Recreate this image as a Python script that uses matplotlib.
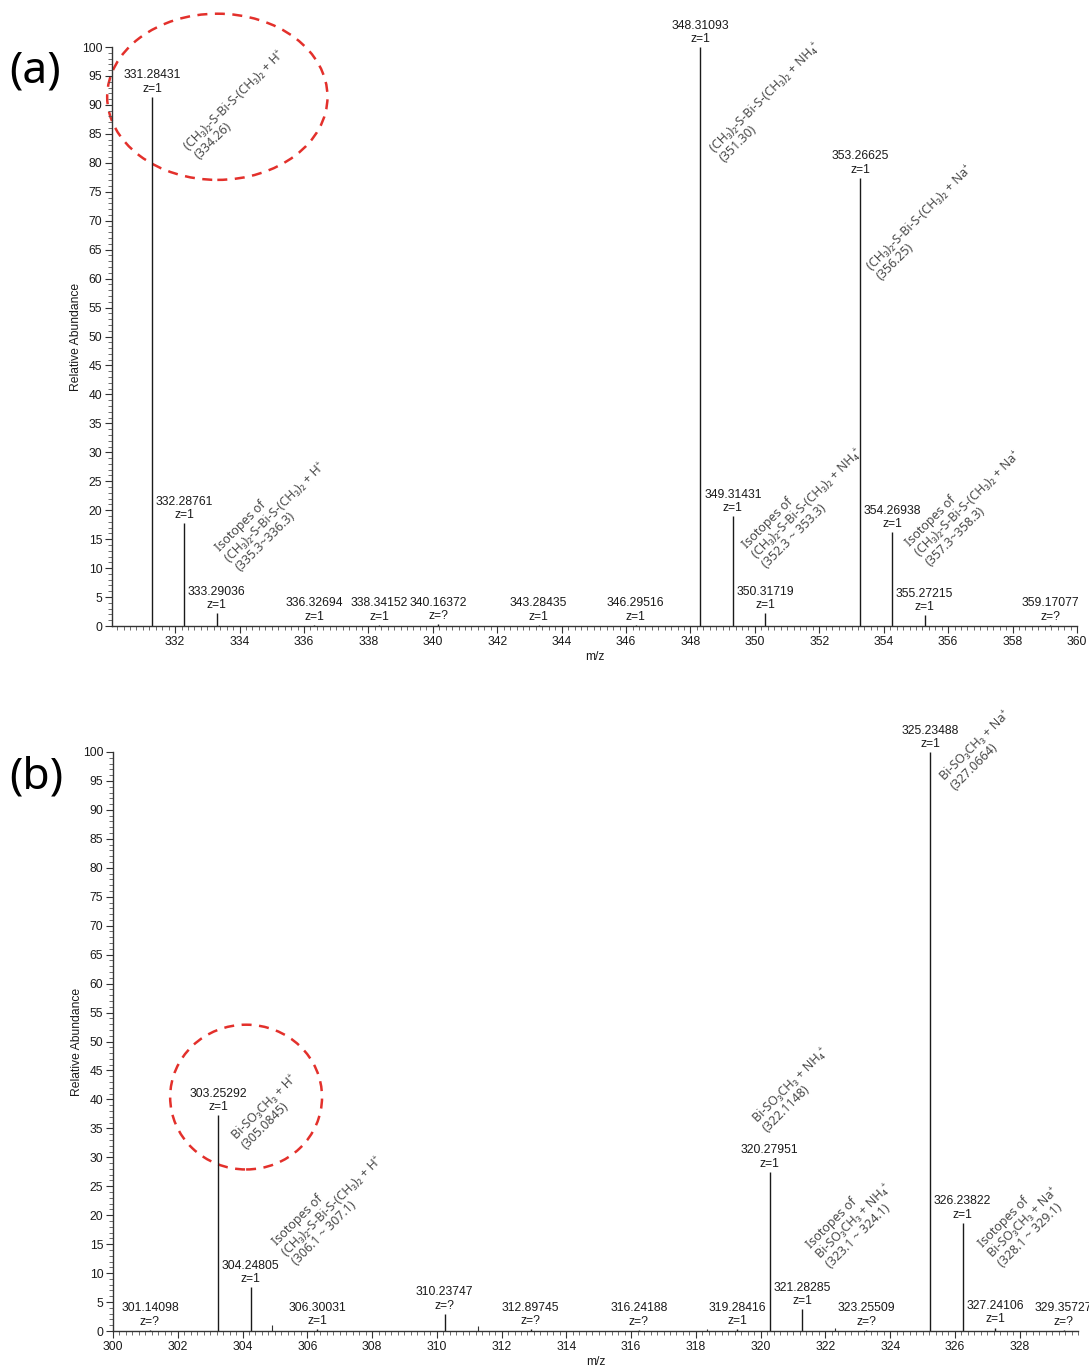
import matplotlib.pyplot as plt
from matplotlib.patches import Ellipse
from matplotlib.ticker import MultipleLocator

# (a) peaks: m/z, relative abundance, charge
mz_a = [331.28431, 332.28761, 333.29036, 336.32694, 338.34152, 340.16372,
        343.28435, 346.29516, 348.31093, 349.31431, 350.31719, 353.26625,
        354.26938, 355.27215, 359.17077]
int_a = [91.4, 17.8, 2.2, 0.2, 0.2, 0.3, 0.2, 0.2, 100.0, 19.0, 2.2, 77.4,
         16.2, 1.9, 0.2]
z_a = ['1', '1', '1', '1', '1', '?', '1', '1', '1', '1', '1', '1', '1', '1', '?']

# (b) peaks
mz_b = [301.14098, 303.25292, 304.24805, 306.30031, 310.23747, 312.89745,
        316.24188, 319.28416, 320.27951, 321.28285, 323.25509, 325.23488,
        326.23822, 327.24106, 329.35727]
int_b = [0.2, 37.3, 7.6, 0.3, 3.0, 0.3, 0.2, 0.3, 27.5, 3.8, 0.2, 100.0,
         18.7, 0.6, 0.2]
z_b = ['?', '1', '1', '1', '?', '?', '?', '1', '1', '1', '?', '1', '1', '1', '?']

# small unlabelled peaks in (b)
mz_b_minor = [304.90, 311.27, 318.34, 322.30]
int_b_minor = [1.0, 0.8, 0.4, 0.5]

# assignments (x, y, text)
ann_a = [
    (333.99, 90.0, '(CH₃)₂-S-Bi-S-(CH₃)₂ + H⁺\n(334.26)'),
    (350.46, 90.5, '(CH₃)₂-S-Bi-S-(CH₃)₂ + NH₄⁺\n(351.30)'),
    (355.25, 69.6, '(CH₃)₂-S-Bi-S-(CH₃)₂ + Na⁺\n(356.25)'),
    (335.11, 19.7, 'Isotopes of\n(CH₃)₂-S-Bi-S-(CH₃)₂ + H⁺\n(335.3~336.3)'),
    (351.61, 21.2, 'Isotopes of\n(CH₃)₂-S-Bi-S-(CH₃)₂ + NH₄⁺\n(352.3 ~ 353.3)'),
    (356.61, 21.1, 'Isotopes of\n(CH₃)₂-S-Bi-S-(CH₃)₂ + Na⁺\n(357.3~358.3)'),
]
ann_b = [
    (304.82, 37.8, 'Bi-SO₃CH₃ + H⁺\n(305.0845)'),
    (306.76, 21.6, 'Isotopes of\n(CH₃)₂-S-Bi-S-(CH₃)₂ + H⁺\n(306.1 ~ 307.1)'),
    (321.06, 41.6, 'Bi-SO₃CH₃ + NH₄⁺\n(322.1148)'),
    (322.85, 19.0, 'Isotopes of\nBi-SO₃CH₃ + NH₄⁺\n(323.1 ~ 324.1)'),
    (326.77, 100.3, 'Bi-SO₃CH₃ + Na⁺\n(327.0664)'),
    (328.10, 18.7, 'Isotopes of\nBi-SO₃CH₃ + Na⁺\n(328.1 ~ 329.1)'),
]

LABEL_FONT = ['Liberation Sans', 'DejaVu Sans']
ANN_FONT = ['Noto Sans', 'DejaVu Sans']

fig = plt.figure(figsize=(10.89, 13.69), dpi=100)
ax_a = fig.add_axes([112 / 1089, 1 - 626 / 1369, 965 / 1089, 579 / 1369])
ax_b = fig.add_axes([113 / 1089, 1 - 1331 / 1369, 965 / 1089, 579 / 1369])


def draw_spectrum(ax, mz, inten, z, xlim, minor_mz=(), minor_int=()):
    ax.vlines(mz, 0, inten, color='#1a1a1a', lw=1.0)
    if len(minor_mz):
        ax.vlines(minor_mz, 0, minor_int, color='#333333', lw=0.8)
    for m, h, c in zip(mz, inten, z):
        ax.annotate(f'{m:.5f}\nz={c}', xy=(m, h), xytext=(0, 1.5),
                    textcoords='offset points', ha='center', va='bottom',
                    fontsize=8.7, family=LABEL_FONT, color='#1a1a1a',
                    linespacing=1.15, annotation_clip=False)
    ax.set_xlim(*xlim)
    ax.set_ylim(0, 100)
    ax.xaxis.set_major_locator(MultipleLocator(2))
    ax.xaxis.set_minor_locator(MultipleLocator(0.2))
    ax.yaxis.set_major_locator(MultipleLocator(5))
    ax.yaxis.set_minor_locator(MultipleLocator(1))
    for s in ('top', 'right'):
        ax.spines[s].set_visible(False)
    for s in ('left', 'bottom'):
        ax.spines[s].set_color('#333333')
        ax.spines[s].set_linewidth(1.0)
    ax.tick_params(which='major', length=5, width=0.8, color='#333333',
                   labelsize=8.7, labelcolor='#1a1a1a', pad=2)
    ax.tick_params(which='minor', length=3, width=0.6, color='#555555')
    for lab in ax.get_xticklabels() + ax.get_yticklabels():
        lab.set_family(LABEL_FONT)
    ax.set_ylabel('Relative Abundance', fontsize=8.7, family=LABEL_FONT,
                  color='#1a1a1a', va='center')
    ax.yaxis.set_label_coords(-0.0373, 0.5)
    ax.set_xlabel('m/z', fontsize=8.7, family=LABEL_FONT, color='#1a1a1a',
                  va='center')
    ax.xaxis.set_label_coords(0.5, -0.053)


def draw_assignments(ax, notes):
    for x, y, txt in notes:
        ax.text(x, y, txt, rotation=45, rotation_mode='anchor', ha='center',
                va='center', multialignment='left', fontsize=9,
                family=ANN_FONT, color='#4a4a4a', linespacing=1.1,
                clip_on=False)


draw_spectrum(ax_a, mz_a, int_a, z_a, (330.04, 360))
draw_spectrum(ax_b, mz_b, int_b, z_b, (300, 329.8), mz_b_minor, int_b_minor)
draw_assignments(ax_a, ann_a)
draw_assignments(ax_b, ann_b)

# red dashed rings around the protonated species
ring_style = dict(fill=False, edgecolor='#e3302b', lw=1.8,
                  linestyle=(0, (4, 3)), clip_on=False)
ax_a.add_patch(Ellipse((333.31, 91.4), 6.84, 28.7, **ring_style))
ax_b.add_patch(Ellipse((304.11, 40.4), 4.69, 25.0, **ring_style))

fig.text(9 / 1089, 1 - 72 / 1369, '(a)', fontsize=32, family=ANN_FONT,
         va='center', ha='left', color='black')
fig.text(9 / 1089, 1 - 777 / 1369, '(b)', fontsize=32, family=ANN_FONT,
         va='center', ha='left', color='black')

fig.savefig('out.png', dpi=100, facecolor='white')
